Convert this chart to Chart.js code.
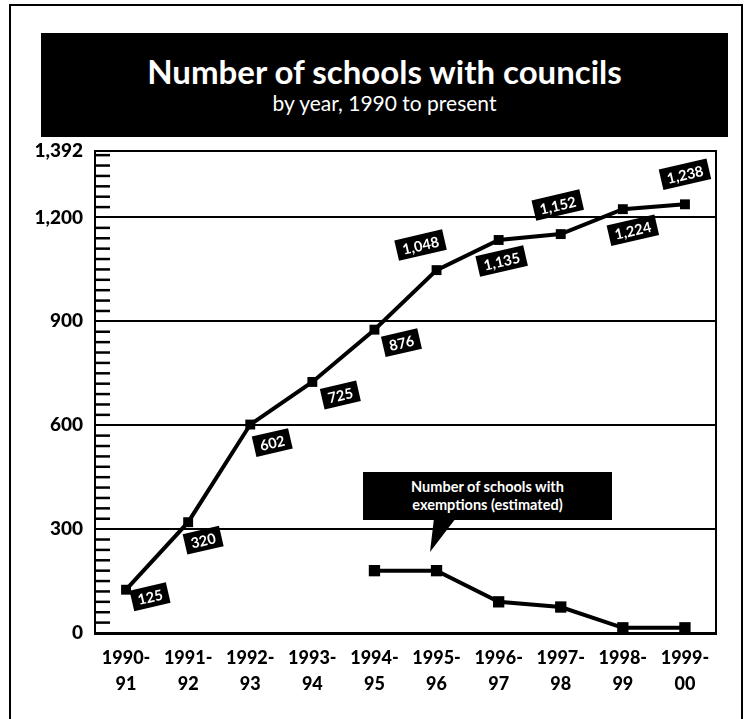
<!DOCTYPE html>
<html><head><meta charset="utf-8">
<script src="https://cdn.jsdelivr.net/npm/chart.js@4"></script>
<style>
html,body{margin:0;padding:0;background:#fff;}
#wrap{position:relative;width:746px;height:719px;overflow:hidden;font-family:Lato,"Open Sans",sans-serif;}
#frame{position:absolute;left:9px;top:4px;width:734px;height:740px;border:2px solid #000;box-sizing:border-box;}
#titlebox{position:absolute;left:41px;top:33px;width:687px;height:104px;background:#000;color:#fff;text-align:center;}
#t1{position:absolute;left:0;right:0;top:22px;font-weight:700;font-size:33px;line-height:33px;}
#t2{position:absolute;left:0;right:0;top:59px;font-weight:400;font-size:21px;line-height:21px;}
#callout{position:absolute;left:363px;top:472px;width:249px;height:48px;background:#000;color:#fff;text-align:center;font-weight:700;font-size:14.5px;line-height:18px;padding-top:6px;box-sizing:border-box;}
#ptr{position:absolute;left:0;top:0;}
canvas{position:absolute;left:0;top:0;}
</style>
</head><body>
<div id="wrap">
  <canvas id="c" width="746" height="719"></canvas>
  <div id="frame"></div>
  <div id="titlebox"><div id="t1">Number of schools with councils</div><div id="t2">by year, 1990 to present</div></div>
  <div id="callout">Number of schools with<br>exemptions (estimated)</div>
  <svg id="ptr" width="746" height="719"><polygon points="434,518 456,518 430,552" fill="#000"/></svg>
</div>
<script>
// ---- data ----
const categories = [["1990-","91"],["1991-","92"],["1992-","93"],["1993-","94"],["1994-","95"],["1995-","96"],["1996-","97"],["1997-","98"],["1998-","99"],["1999-","00"]];
const councils = [125, 320, 602, 725, 876, 1048, 1135, 1152, 1224, 1238];
const exemptions = [null, null, null, null, 180, 180, 90, 75, 15, 15];
const yTicks = [0, 300, 600, 900, 1200, 1392];
const yMax = 1392;
const minorStep = 30;
// label placement (layout only): offset of each value tag from its point
const labelOffsets = [[24,7],[15,18],[22,18],[28,13],[27,13],[-16,-25],[3,21],[-3,-29],[10,21],[0,-30]];

const fmt = v => v.toLocaleString('en-US');

const decor = {
  id: 'decor',
  beforeDatasetsDraw(chart) {
    const {ctx, chartArea: a, scales: {y}} = chart;
    ctx.save();
    ctx.strokeStyle = '#000';
    ctx.lineWidth = 2.5;
    for (let v = minorStep; v < yMax; v += minorStep) {
      if (v % 300 === 0) continue;
      const py = y.getPixelForValue(v);
      ctx.beginPath(); ctx.moveTo(a.left, py); ctx.lineTo(a.left + 15, py); ctx.stroke();
    }
    ctx.lineWidth = 2;
    ctx.strokeRect(a.left, a.top, a.right - a.left, a.bottom - a.top);
    ctx.restore();
  },
  afterDatasetsDraw(chart) {
    const {ctx} = chart;
    const meta = chart.getDatasetMeta(0);
    ctx.save();
    ctx.font = '700 14.5px Lato, "Open Sans", sans-serif';
    ctx.textAlign = 'center';
    ctx.textBaseline = 'middle';
    meta.data.forEach((pt, i) => {
      const txt = fmt(councils[i]);
      const [dx, dy] = labelOffsets[i];
      const w = ctx.measureText(txt).width + 12;
      const h = 21;
      ctx.save();
      ctx.translate(pt.x + dx, pt.y + dy);
      ctx.rotate(-13 * Math.PI / 180);
      ctx.fillStyle = '#000';
      ctx.fillRect(-w / 2, -h / 2, w, h);
      ctx.fillStyle = '#fff';
      ctx.fillText(txt, 0, 1);
      ctx.restore();
    });
    ctx.restore();
  }
};

new Chart(document.getElementById('c'), {
  type: 'line',
  data: {
    labels: categories,
    datasets: [
      {label: 'Schools with councils', data: councils, borderColor: '#000', backgroundColor: '#000', borderWidth: 4,
       pointStyle: 'rect', pointRadius: 7, pointBackgroundColor: '#000', pointBorderWidth: 0, tension: 0},
      {label: 'Schools with exemptions (estimated)', data: exemptions, borderColor: '#000', backgroundColor: '#000', borderWidth: 4,
       pointStyle: 'rect', pointRadius: 8, pointBackgroundColor: '#000', pointBorderWidth: 0, tension: 0, spanGaps: false}
    ]
  },
  options: {
    responsive: false,
    animation: false,
    events: [],
    layout: {padding: {left: 0, top: 151, right: 30, bottom: 0}},
    plugins: {legend: {display: false}, tooltip: {enabled: false}, title: {display: false}},
    scales: {
      x: {
        offset: true,
        afterFit: s => { s.height = 86; },
        grid: {display: false, drawTicks: false},
        border: {display: true, color: '#000', width: 3},
        ticks: {color: '#000', font: {family: 'Lato', weight: '900', size: 18, lineHeight: 1.45}, padding: 12, maxRotation: 0, autoSkip: false}
      },
      y: {
        min: 0, max: yMax,
        afterBuildTicks: s => { s.ticks = yTicks.map(v => ({value: v})); },
        afterFit: s => { s.width = 95; },
        grid: {color: '#000', lineWidth: 2, drawTicks: false},
        border: {display: true, color: '#000', width: 2},
        ticks: {color: '#000', font: {family: 'Lato', weight: '900', size: 19}, padding: 12, callback: v => fmt(v)}
      }
    }
  },
  plugins: [decor]
});
</script>
</body></html>
